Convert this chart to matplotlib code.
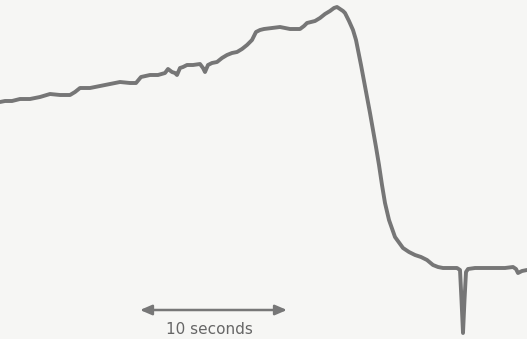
import matplotlib
matplotlib.use("Agg")
import matplotlib.pyplot as plt

# Trace (x: time in pixel units, y: signal, pixel units downward)
trace_x = [0, 5, 12, 20, 30, 40, 50, 60, 70, 75, 80, 90, 100, 110, 120, 130, 136, 141,
           150, 158, 165, 168, 172, 175, 177, 180, 183, 187, 193, 200, 203, 205, 208,
           212, 217, 222, 227, 232, 237, 242, 247, 252, 256, 260, 264, 272, 280, 290, 300,
           304, 307, 315, 320, 325, 330, 334, 337, 340, 343, 345, 349, 353, 356, 358,
           361, 364, 367, 370, 373, 376, 379, 382, 385, 389, 395, 403, 409, 415, 421,
           427, 433, 438, 443, 450, 457, 460, 461.5, 463, 464.5, 466, 468, 475, 485,
           495, 505, 513, 516, 518, 522, 527]
trace_y = [102, 101, 101, 99, 99, 97, 94, 95, 95, 92, 88, 88, 86, 84, 82, 83, 83, 77,
           75, 75, 73, 69, 72, 73, 75, 68, 67, 65, 65, 64, 68, 72, 65,
           63, 62, 58, 55, 53, 52, 49, 45, 40, 32, 30, 29, 28, 27, 29, 29,
           26, 23, 21, 18, 14, 11, 8, 7, 9, 11, 13, 21, 30, 40, 50,
           65, 81, 97, 113, 130, 147, 165, 185, 203, 220, 237, 248, 252, 255, 257,
           260, 265, 267, 268, 268, 268, 270, 300, 333, 300, 272, 269, 268, 268,
           268, 268, 267, 269, 273, 271, 270]

# Scale bar: 10 seconds
bar_x0, bar_x1, bar_y = 140, 287, 310
bar_label = "10 seconds"

W, H = 527, 339
fig = plt.figure(figsize=(W / 100, H / 100), dpi=100)
fig.patch.set_facecolor("#f6f6f4")
ax = fig.add_axes([0, 0, 1, 1])
ax.set_facecolor("#f6f6f4")
ax.set_xlim(0, W)
ax.set_ylim(H, 0)
ax.axis("off")

ax.plot(trace_x, trace_y, color="#767676", lw=2.8, solid_joinstyle="round",
        solid_capstyle="round")

ax.annotate("", xy=(bar_x0, bar_y), xytext=(bar_x1, bar_y),
            arrowprops=dict(arrowstyle="<|-|>,head_length=0.7,head_width=0.3",
                            color="#777777", lw=1.8, shrinkA=0, shrinkB=0))
ax.text(209, 330, bar_label, ha="center", va="center",
        fontsize=11, color="#666666", family="DejaVu Sans")

fig.savefig("out.png", dpi=100, facecolor=fig.get_facecolor())
